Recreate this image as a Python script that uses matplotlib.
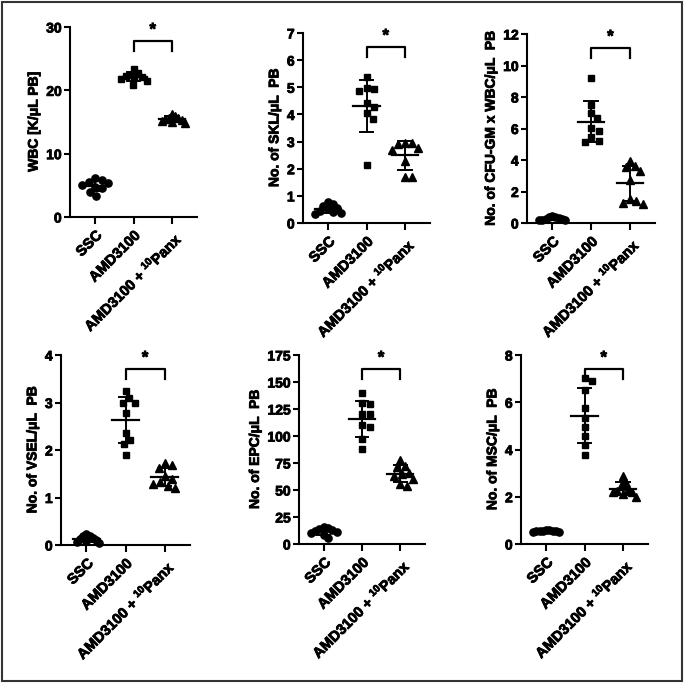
import numpy as np
import matplotlib
matplotlib.use('Agg')
import matplotlib.pyplot as plt
from matplotlib.patches import Rectangle
from matplotlib.font_manager import FontProperties
import matplotlib.patheffects as pe
import matplotlib.transforms as mtransforms

plt.rcParams['font.family'] = ['Liberation Sans', 'DejaVu Sans']
plt.rcParams['font.weight'] = 'bold'
plt.rcParams['mathtext.fontset'] = 'custom'
plt.rcParams['mathtext.rm'] = 'Liberation Sans:bold'
plt.rcParams['mathtext.it'] = 'Liberation Sans:bold'
plt.rcParams['mathtext.bf'] = 'Liberation Sans:bold'

groups = ['SSC', 'AMD3100', r'AMD3100 + $^{10}$Panx']

wbc_ssc = [6.1, 5.9, 5.6, 5.3, 5.1, 4.8, 4.5, 4.0, 3.3]
wbc_amd = [23.4, 22.8, 22.5, 22.3, 22.1, 22.0, 21.8, 21.5, 20.9]
wbc_panx = [16.3, 15.9, 15.7, 15.6, 15.5, 15.3, 15.2, 15.0, 14.9]

skl_ssc = [0.78, 0.70, 0.62, 0.55, 0.50, 0.45, 0.42, 0.38, 0.35]
skl_amd = [5.38, 4.97, 4.95, 4.88, 4.42, 4.28, 4.05, 3.85, 2.13]
skl_panx = [2.95, 2.95, 2.90, 2.75, 2.70, 2.30, 1.70, 1.70]

cfu_ssc = [0.45, 0.40, 0.35, 0.30, 0.28, 0.25, 0.22, 0.20, 0.18]
cfu_amd = [9.19, 7.49, 6.97, 6.65, 6.05, 5.84, 5.44, 5.23, 5.12]
cfu_panx = [3.95, 3.60, 3.55, 3.30, 2.75, 1.55, 1.40, 1.30, 1.20]

vsel_ssc = [0.24, 0.20, 0.18, 0.15, 0.12, 0.10, 0.08, 0.07, 0.05]
vsel_amd = [3.25, 3.10, 3.00, 2.98, 2.78, 2.35, 2.22, 2.12, 1.90]
vsel_panx = [1.72, 1.68, 1.62, 1.45, 1.38, 1.32, 1.28, 1.25, 1.20]

epc_ssc = [16, 15, 14, 13, 12, 11, 10, 8, 6]
epc_amd = [140, 131, 130, 120, 120, 110, 108, 97, 88]
epc_panx = [78, 72, 71, 66, 65, 63, 60, 56, 54]

msc_ssc = [0.60, 0.58, 0.57, 0.56, 0.55, 0.54, 0.53, 0.52, 0.50]
msc_amd = [7.02, 6.88, 6.50, 5.75, 5.32, 4.94, 4.57, 4.19, 3.77]
msc_panx = [2.88, 2.60, 2.45, 2.30, 2.25, 2.22, 2.18, 2.10, 2.00]

panels = [
    ('WBC [K/\u03bcL PB]', 30, 10, [wbc_ssc, wbc_amd, wbc_panx]),
    ('No. of SKL/\u03bcL  PB', 7, 1, [skl_ssc, skl_amd, skl_panx]),
    ('No. of CFU-GM x WBC/\u03bcL  PB', 12, 2, [cfu_ssc, cfu_amd, cfu_panx]),
    ('No. of VSEL/\u03bcL  PB', 4, 1, [vsel_ssc, vsel_amd, vsel_panx]),
    ('No. of EPC/\u03bcL  PB', 175, 25, [epc_ssc, epc_amd, epc_panx]),
    ('No. of MSC/\u03bcL  PB', 8, 2, [msc_ssc, msc_amd, msc_panx]),
]

# axes boxes in pixels: left, right, top, bottom
W, H = 684, 683
boxes = [
    (70, 197, 27, 217),
    (303, 430, 33, 223),
    (527, 655, 34, 223),
    (61, 190, 355, 545),
    (299, 425, 355, 544),
    (521, 648, 355, 544),
]
markers = ['o', 's', '^']
msizes = [5.2, 5.0, 5.6]

bold = FontProperties(family=['Liberation Sans', 'DejaVu Sans'], weight='bold')
thick = [pe.withStroke(linewidth=0.6, foreground='black')]

fig = plt.figure(figsize=(W / 100, H / 100), dpi=100)
XL = (-0.65, 2.65)


def swarm(vals, ypx, dpx, step, maxw):
    vals = np.asarray(vals, float)
    order = np.argsort(-vals, kind='stable')
    placed = []
    offs = np.zeros(len(vals))
    for i in order:
        y = vals[i] * ypx
        chosen = None
        k = 0
        while chosen is None:
            cands = [0.0] if k == 0 else [k * step, -k * step]
            for c in cands:
                if all((c - px) ** 2 + (y - py) ** 2 >= dpx ** 2 for px, py in placed):
                    chosen = c
                    break
            k += 1
        offs[i] = chosen
        placed.append((chosen, y))
    mx = np.max(np.abs(offs))
    if mx > maxw:
        offs = offs * maxw / mx
    return offs


for (ylabel, ymax, ystep, data), (l, r, t, b) in zip(panels, boxes):
    ax = fig.add_axes([l / W, 1 - b / H, (r - l) / W, (b - t) / H])
    ax.set_xlim(*XL)
    ax.set_ylim(0, ymax)
    ypx = (b - t) / ymax
    xpx = (r - l) / (XL[1] - XL[0])
    for gi, vals in enumerate(data):
        offs = swarm(vals, ypx, 7.5, 1.5, 13.0) / xpx
        ax.plot(gi + offs, vals, linestyle='none', marker=markers[gi],
                ms=msizes[gi], color='black', mec='black', zorder=3, clip_on=False)
        m = np.mean(vals)
        s = np.std(vals, ddof=1)
        ax.plot([gi - 0.34, gi + 0.34], [m, m], color='black', lw=1.6, zorder=4)
        ax.plot([gi, gi], [m - s, m + s], color='black', lw=1.4, zorder=4)
        for yy in (m - s, m + s):
            ax.plot([gi - 0.17, gi + 0.17], [yy, yy], color='black', lw=1.4, zorder=4)
    trans = mtransforms.blended_transform_factory(ax.transData, ax.transAxes)
    ax.plot([1, 1, 2, 2], [0.875, 0.925, 0.925, 0.875], transform=trans,
            color='black', lw=1.6, clip_on=False)
    ax.text(1.5, 0.985, '*', transform=trans, ha='center', va='center',
            fontproperties=bold, fontsize=12, path_effects=thick)
    ax.set_yticks(np.arange(0, ymax + ystep / 2, ystep))
    ax.set_xticks([0, 1, 2])
    ax.set_xticklabels(groups, rotation=45, ha='right', rotation_mode='anchor')
    for lab in ax.get_xticklabels():
        lab.set_fontproperties(bold)
        lab.set_fontsize(10.5)
        lab.set_path_effects(thick)
    for lab in ax.get_yticklabels():
        lab.set_fontproperties(bold)
        lab.set_fontsize(10)
        lab.set_path_effects(thick)
    ax.tick_params(axis='y', width=1.5, length=4, pad=2)
    ax.tick_params(axis='x', width=1.5, length=5, pad=3)
    ax.set_ylabel(ylabel, fontproperties=bold, fontsize=10, labelpad=4)
    ax.yaxis.label.set_path_effects(thick)
    for sp in ('top', 'right'):
        ax.spines[sp].set_visible(False)
    for sp in ('left', 'bottom'):
        ax.spines[sp].set_linewidth(1.5)

fig.patches.append(Rectangle((1.5 / W, 2.5 / H), (W - 3.5) / W, (H - 4.5) / H,
                             transform=fig.transFigure, fill=False,
                             edgecolor='#333333', lw=1.5))

fig.savefig('out.png', dpi=100)
